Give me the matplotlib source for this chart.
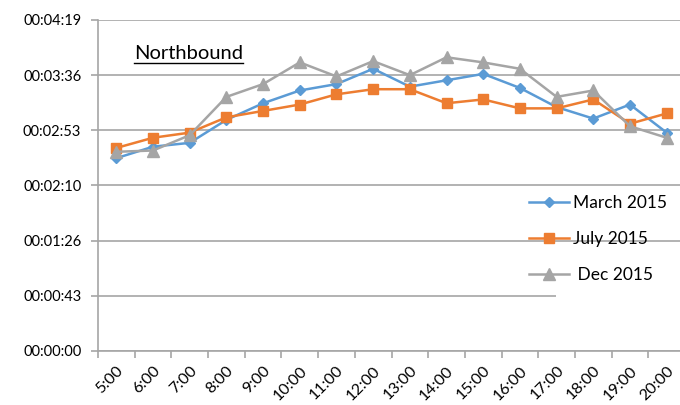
import matplotlib
matplotlib.use("Agg")
import matplotlib.pyplot as plt
from matplotlib.lines import Line2D
from matplotlib.patches import Rectangle
from matplotlib.transforms import IdentityTransform

plt.rcParams["font.family"] = ["Lato", "DejaVu Sans"]

# ---------- data (travel time, seconds) ----------
HOURS = ["5:00", "6:00", "7:00", "8:00", "9:00", "10:00", "11:00", "12:00",
         "13:00", "14:00", "15:00", "16:00", "17:00", "18:00", "19:00", "20:00"]
MARCH_2015 = [151, 160, 163, 181, 194, 204, 209, 221,
              207, 212, 217, 206, 191, 182, 193, 171]
JULY_2015 = [159, 167, 171, 183, 188, 193, 201, 205,
             205, 194, 197, 190, 190, 197, 178, 186]
DEC_2015 = [156, 157, 169, 199, 209, 226, 215, 227,
            216, 230, 226, 221, 199, 204, 176, 167]
Y_TICKS = [0, 43.2, 86.4, 129.6, 172.8, 216.0, 259.2]

BLUE = "#5B9BD5"
ORANGE = "#ED7D31"
GRAY = "#A5A5A5"
GRID = "#A6A6A6"


def hms(sec):
    s = int(round(sec))
    return f"{s // 3600:02d}:{(s % 3600) // 60:02d}:{s % 60:02d}"


fig = plt.figure(figsize=(6.8, 4.05), dpi=100)
ax = fig.add_axes([98 / 680, 1 - 351 / 405, 587 / 680, 331 / 405])

x = list(range(len(HOURS)))
ax.plot(x, MARCH_2015, color=BLUE, lw=1.8, marker="D", ms=5.5, label="March 2015", zorder=3)
ax.plot(x, JULY_2015, color=ORANGE, lw=1.8, marker="s", ms=7, label="July 2015", zorder=3)
ax.plot(x, DEC_2015, color=GRAY, lw=1.8, marker="^", ms=8, label=" Dec 2015", zorder=3)

ax.set_xlim(-0.5, len(HOURS) - 0.5)
ax.set_ylim(0, Y_TICKS[-1])
ax.set_yticks(Y_TICKS)
ax.set_yticklabels([hms(v) for v in Y_TICKS])
ax.yaxis.grid(True, color=GRID, lw=1.2)
ax.set_axisbelow(True)

# category axis: ticks between categories, labels centred on points
ax.set_xticks([i - 0.5 for i in range(len(HOURS) + 1)])
ax.set_xticklabels([])
ax.set_xticks(x, minor=True)
ax.set_xticklabels(HOURS, minor=True, rotation=45, ha="right",
                   rotation_mode="anchor", fontsize=11.5)
ax.tick_params(axis="x", which="major", length=5, color=GRID, width=1.2)
ax.tick_params(axis="x", which="minor", length=0, pad=9)
ax.tick_params(axis="y", length=5, color=GRID, width=1.2, labelsize=10.5, pad=7)

for side in ("top", "right"):
    ax.spines[side].set_visible(False)
for side in ("left", "bottom"):
    ax.spines[side].set_color(GRID)
    ax.spines[side].set_linewidth(1.2)

# white backing behind the last legend entry
ax.add_patch(Rectangle(((556 - 98) / 587, (351 - 297) / 331), 0.3, 42 / 331,
                       transform=ax.transAxes, facecolor="white",
                       edgecolor="none", zorder=1))

ax.legend(loc="upper left", bbox_to_anchor=(522 / 680, 1 - 188 / 405),
          bbox_transform=fig.transFigure, frameon=False, fontsize=12.5,
          handlelength=2.3, handletextpad=0.25, labelspacing=1.15,
          borderaxespad=0)

title = ax.text(134 / 680, 1 - 59 / 405, "Northbound", transform=fig.transFigure,
                fontsize=14.5, ha="left", va="baseline")
fig.canvas.draw()
bb = title.get_window_extent()
fig.add_artist(Line2D([bb.x0, bb.x1], [bb.y0 - 1, bb.y0 - 1], color="black",
                      lw=1.0, transform=IdentityTransform()))

fig.savefig("out.png", dpi=100)
